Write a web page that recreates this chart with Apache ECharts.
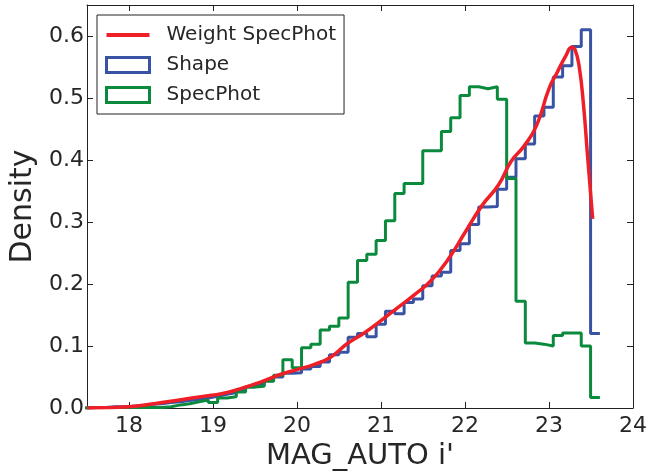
<!DOCTYPE html>
<html>
<head>
<meta charset="utf-8">
<script src="https://cdn.jsdelivr.net/npm/echarts@6/dist/echarts.min.js"></script>
<style>
html,body{margin:0;padding:0;background:#fff;}
#chart{width:668px;height:472px;}
</style>
</head>
<body>
<div id="chart"></div>
<script>
// Histogram bins (uniform width)
const binStart = 17.39;
const binWidth = 0.111;

// Shape histogram density per bin
const shapeValues = [
  0.000, 0.001, 0.001, 0.002, 0.002, 0.003, 0.004, 0.006, 0.007, 0.009,
  0.010, 0.012, 0.014, 0.016, 0.019, 0.022, 0.025, 0.030, 0.034, 0.038,
  0.044, 0.050, 0.056, 0.057, 0.063, 0.067, 0.074, 0.086, 0.090, 0.114,
  0.120, 0.115, 0.135, 0.156, 0.152, 0.170, 0.176, 0.197, 0.213, 0.219,
  0.254, 0.265, 0.296, 0.324, 0.325, 0.353, 0.372, 0.402, 0.426, 0.471,
  0.485, 0.534, 0.552, 0.583, 0.610, 0.120
];

// SpecPhot histogram density per bin
const specPhotValues = [
  0.000, 0.001, 0.001, 0.001, 0.001, 0.001, 0.001, 0.001, 0.001, 0.002,
  0.005, 0.007, 0.010, 0.013, 0.009, 0.016, 0.018, 0.026, 0.034, 0.035,
  0.043, 0.053, 0.078, 0.065, 0.097, 0.103, 0.126, 0.132, 0.145, 0.203,
  0.238, 0.248, 0.270, 0.302, 0.346, 0.362, 0.362, 0.415, 0.415, 0.446,
  0.468, 0.504, 0.518, 0.515, 0.518, 0.498, 0.370, 0.172, 0.105, 0.103,
  0.100, 0.117, 0.121, 0.121, 0.100, 0.017
];

// Weighted SpecPhot density curve
const weightX = [17.5, 17.8, 18.0, 18.3, 18.6, 18.9, 19.1, 19.3, 19.55, 19.8,
  20.0, 20.2, 20.4, 20.6, 20.8, 21.0, 21.2, 21.4, 21.6, 21.8,
  22.0, 22.2, 22.4, 22.55, 22.7, 22.85, 23.0, 23.1, 23.2, 23.27,
  23.31, 23.36, 23.41, 23.46, 23.52];
const weightY = [0.000, 0.001, 0.002, 0.007, 0.013, 0.019, 0.023, 0.030, 0.041, 0.054,
  0.062, 0.070, 0.082, 0.104, 0.121, 0.141, 0.162, 0.183, 0.206, 0.240,
  0.283, 0.326, 0.360, 0.398, 0.422, 0.455, 0.515, 0.542, 0.568, 0.582,
  0.578, 0.550, 0.490, 0.405, 0.305];

const xTicks = [18, 19, 20, 21, 22, 23, 24];
const yTicks = [0, 0.1, 0.2, 0.3, 0.4, 0.5, 0.6];

function stepData(vals) {
  const pts = [];
  for (let i = 0; i < vals.length; i++) pts.push([binStart + i * binWidth, vals[i]]);
  pts.push([binStart + vals.length * binWidth, vals[vals.length - 1]]);
  return pts;
}
const weightData = weightX.map((x, i) => [x, weightY[i]]);

const FONT = 'DejaVu Sans';
const TXT = '#262626';
const AX = '#222222';
const RED = '#ee1f26';
const BLUE = '#3953a4';
const GREEN = '#0b8a3e';

const chart = echarts.init(document.getElementById('chart'), null, {renderer: 'canvas'});
const tickCommon = {show: true, inside: true, length: 6, lineStyle: {color: AX, width: 1}};
chart.setOption({
  animation: false,
  backgroundColor: '#ffffff',
  textStyle: {fontFamily: FONT},
  grid: {left: 87, right: 35, top: 5, bottom: 64, containLabel: false, outerBoundsMode: 'none'},
  legend: {
    orient: 'vertical',
    left: 97, top: 15,
    padding: [10, 8, 9, 8],
    itemWidth: 43, itemHeight: 15, itemGap: 10,
    backgroundColor: '#ffffff',
    borderColor: '#222', borderWidth: 1, borderRadius: 0,
    textStyle: {fontFamily: FONT, fontSize: 20, color: TXT, padding: [0, 0, 0, 12]},
    data: [
      {name: 'Weight SpecPhot', icon: 'path://M0,0L100,0L100,9L0,9Z', itemStyle: {color: RED}},
      {name: 'Shape', icon: 'rect', itemStyle: {color: 'rgba(0,0,0,0)', borderColor: BLUE, borderWidth: 3}},
      {name: 'SpecPhot', icon: 'rect', itemStyle: {color: 'rgba(0,0,0,0)', borderColor: GREEN, borderWidth: 3}}
    ]
  },
  xAxis: [{
    type: 'value', min: 17.5, max: 24, position: 'bottom',
    axisLine: {show: true, onZero: false, lineStyle: {color: AX, width: 1}},
    axisTick: Object.assign({customValues: xTicks}, tickCommon),
    axisLabel: {customValues: xTicks, fontFamily: FONT, fontSize: 22, color: TXT, margin: 7},
    splitLine: {show: false},
    name: "MAG_AUTO i'", nameLocation: 'middle', nameGap: 31,
    nameTextStyle: {fontFamily: FONT, fontSize: 29, color: TXT}
  }, {
    type: 'value', min: 17.5, max: 24, position: 'top',
    axisLine: {show: true, onZero: false, lineStyle: {color: AX, width: 1}},
    axisTick: Object.assign({customValues: xTicks}, tickCommon),
    axisLabel: {show: false},
    splitLine: {show: false}
  }],
  yAxis: [{
    type: 'value', min: 0, max: 0.65, position: 'left',
    axisLine: {show: true, onZero: false, lineStyle: {color: AX, width: 1}},
    axisTick: Object.assign({customValues: yTicks}, tickCommon),
    axisLabel: {customValues: yTicks, fontFamily: FONT, fontSize: 22, color: TXT, margin: 3,
      formatter: v => v.toFixed(1)},
    splitLine: {show: false},
    name: 'Density', nameLocation: 'middle', nameGap: 42,
    nameTextStyle: {fontFamily: FONT, fontSize: 30, color: TXT}
  }, {
    type: 'value', min: 0, max: 0.65, position: 'right',
    axisLine: {show: true, onZero: false, lineStyle: {color: AX, width: 1}},
    axisTick: Object.assign({customValues: yTicks}, tickCommon),
    axisLabel: {show: false},
    splitLine: {show: false}
  }],
  series: [
    {
      name: 'Shape', type: 'line', step: 'end', data: stepData(shapeValues),
      showSymbol: false, symbol: 'none', clip: true,
      lineStyle: {color: BLUE, width: 3}, itemStyle: {color: BLUE}, z: 2
    },
    {
      name: 'SpecPhot', type: 'line', step: 'end', data: stepData(specPhotValues),
      showSymbol: false, symbol: 'none', clip: true,
      lineStyle: {color: GREEN, width: 3}, itemStyle: {color: GREEN}, z: 3
    },
    {
      name: 'Weight SpecPhot', type: 'line', data: weightData, smooth: 0.5,
      showSymbol: false, symbol: 'none', clip: true,
      lineStyle: {color: RED, width: 3.5}, itemStyle: {color: RED}, z: 4
    }
  ]
});
</script>
</body>
</html>
